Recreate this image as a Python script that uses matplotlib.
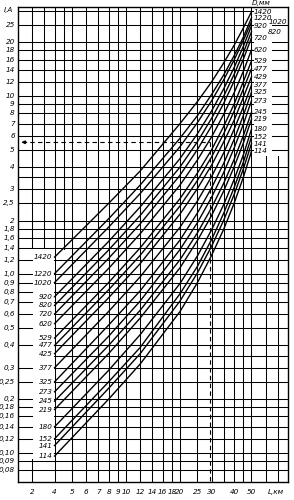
import matplotlib.pyplot as plt
from matplotlib.patches import Rectangle

# pipe diameter D, mm (labels at the start and the end of each curve)
left_labels = ['1420', '1220', '1020', '920', '820', '720', '620', '529', '477', '425',
               '377', '325', '273', '245', '219', '180', '152', '141', '114']
right_labels = ['1420', '1220', '1020', '920', '820', '720', '620', '529', '477', '429',
                '377', '325', '273', '245', '219', '180', '152', '141', '114']

# length L, km
length_km = [4, 8, 12, 20, 25, 30, 35, 40, 45, 50]

# current I, A at the lengths above
i_1420 = [1.25, 2.5, 3.8, 7.0, 9.3, 12.0, 15.3, 19.2, 24.0, 29.6]
i_1220 = [1.01, 2.05, 3.17, 5.8, 7.76, 10.2, 13.1, 16.8, 21.3, 27.4]
i_1020 = [0.90, 1.84, 2.84, 5.2, 7.09, 9.4, 12.3, 15.9, 20.4, 26.0]
i_920 = [0.75, 1.53, 2.39, 4.46, 6.14, 8.25, 10.95, 14.4, 18.9, 24.7]
i_820 = [0.67, 1.37, 2.14, 4.0, 5.54, 7.5, 9.96, 13.2, 17.4, 22.9]
i_720 = [0.60, 1.23, 1.92, 3.6, 5.01, 6.8, 9.08, 12.1, 16.0, 21.2]
i_620 = [0.53, 1.08, 1.69, 3.17, 4.38, 5.9, 7.88, 10.4, 13.7, 18.1]
i_529 = [0.44, 0.90, 1.41, 2.66, 3.70, 5.0, 6.75, 9.0, 12.0, 15.7]
i_477 = [0.40, 0.82, 1.28, 2.42, 3.36, 4.56, 6.14, 8.2, 10.9, 14.2]
i_425 = [0.36, 0.74, 1.15, 2.18, 3.03, 4.1, 5.52, 7.3, 9.8, 12.8]
i_377 = [0.30, 0.62, 0.97, 1.84, 2.58, 3.54, 4.79, 6.5, 8.67, 11.5]
i_325 = [0.25, 0.52, 0.81, 1.56, 2.21, 3.06, 4.19, 5.7, 7.75, 10.5]
i_273 = [0.22, 0.45, 0.71, 1.38, 1.95, 2.71, 3.72, 5.1, 6.92, 9.4]
i_245 = [0.195, 0.40, 0.63, 1.21, 1.71, 2.37, 3.24, 4.4, 5.97, 8.1]
i_219 = [0.175, 0.36, 0.57, 1.09, 1.55, 2.14, 2.93, 4.0, 5.43, 7.4]
i_180 = [0.14, 0.29, 0.46, 0.89, 1.27, 1.78, 2.46, 3.4, 4.66, 6.5]
i_152 = [0.12, 0.25, 0.39, 0.78, 1.11, 1.57, 2.20, 3.06, 4.24, 5.9]
i_141 = [0.11, 0.23, 0.36, 0.71, 1.02, 1.44, 2.01, 2.8, 3.89, 5.4]
i_114 = [0.096, 0.20, 0.315, 0.62, 0.90, 1.28, 1.79, 2.5, 3.49, 4.9]

curves = [i_1420, i_1220, i_1020, i_920, i_820, i_720, i_620, i_529, i_477, i_425,
          i_377, i_325, i_273, i_245, i_219, i_180, i_152, i_141, i_114]

# axis ticks
y_ticks = [25, 20, 18, 16, 14, 12, 10, 9, 8, 7, 6, 5, 4, 3, 2.5, 2, 1.8, 1.6, 1.4, 1.2,
           1.0, 0.9, 0.8, 0.7, 0.6, 0.5, 0.4, 0.3, 0.25, 0.2, 0.18, 0.16, 0.14, 0.12,
           0.10, 0.09, 0.08]
y_labels = ['25', '20', '18', '16', '14', '12', '10', '9', '8', '7', '6', '5', '4', '3', '2,5',
            '2', '1,8', '1,6', '1,4', '1,2', '1,0', '0,9', '0,8', '0,7', '0,6', '0,5', '0,4',
            '0,3', '0,25', '0,2', '0,18', '0,16', '0,14', '0,12', '0,10', '0,09', '0,08']
y_extra = [30, 3.5, 0.35]
x_ticks = [3, 4, 5, 6, 7, 8, 9, 10, 12, 14, 16, 18, 20, 25, 30, 40, 50]
x_labels = ['2', '4', '5', '6', '7', '8', '9', '10', '12', '14', '16', '18', '20', '25',
            '30', '40', '50']
x_extra = [35, 45, 60, 70]
x_upper = [3.5, 4.5]   # only drawn above the left label panel

# worked example
ex_length = 30
ex_current = 5.5

y_lo, y_hi = 0.0687, 31.5
fig = plt.figure(figsize=(2.94, 5.0), dpi=100)
ax = fig.add_axes([0.061, 0.036, 0.919, 0.95])
ax.set_xscale('log')
ax.set_yscale('log')
ax.set_xlim(2.5, 80)
ax.set_ylim(y_lo, y_hi)
ax.set_xticks([])
ax.set_yticks([])
ax.minorticks_off()
for s in ax.spines.values():
    s.set_linewidth(1.0)

grid_kw = dict(color='black', lw=0.75, zorder=1)
for y in y_ticks + y_extra:
    ax.axhline(y, **grid_kw)
for x in x_ticks + x_extra:
    ax.axvline(x, **grid_kw)
for x in x_upper:
    ax.plot([x, x], [1.38, y_hi], **grid_kw)

# white label panels, left and right
ax.add_patch(Rectangle((2.5, 0.093), 4 - 2.5 - 0.03, 1.38 - 0.093, facecolor='white',
                       edgecolor='none', zorder=1.5))
ax.add_patch(Rectangle((51.5, 4.6), 80 - 51.5 - 0.3, y_hi - 4.6, facecolor='white',
                       edgecolor='none', zorder=1.5))
for y in y_ticks:
    if 0.093 < y < 1.38:
        ax.plot([2.5, 3.0], [y, y], color='black', lw=0.75, zorder=2)
    if y > 4.6:
        ax.plot([65, 80], [y, y], color='black', lw=0.75, zorder=2)

for vals in curves:
    ax.plot(length_km, vals, color='black', lw=1.0, zorder=3)

lab_kw = dict(fontsize=5.2, style='italic', color='black', zorder=4)
for lab, vals in zip(left_labels, curves):
    ax.text(3.9, vals[0], lab, ha='right', va='center', **lab_kw)
for lab, vals in zip(right_labels, curves):
    xpos = 62 if lab in ('1020', '820') else 51.5
    ax.text(xpos, vals[-1], lab, ha='left', va='center', **lab_kw)
fig.text(252 / 294, 0.999, 'D,мм', ha='left', va='top', fontsize=5.2, style='italic')

for y, lab in zip(y_ticks, y_labels):
    ax.text(2.4, y, lab, ha='right', va='center', **lab_kw)
fig.text(0.012, 1 - 10 / 500, 'I,A', ha='left', va='center', fontsize=5.2, style='italic')
for x, lab in zip(x_ticks, x_labels):
    ax.text(x, 0.0605, lab, ha='center', va='center', **lab_kw)
ax.text(68, 0.0605, 'L,км', ha='center', va='center', **lab_kw)

# example: dashed reading line with arrow
ax.plot([2.65, ex_length * 0.975], [ex_current, ex_current], color='black', lw=0.8,
        ls=(0, (4, 3)), zorder=3)
ax.plot([ex_length * 0.975, ex_length * 0.975], [ex_current, y_lo], color='black',
        lw=0.8, ls=(0, (4, 3)), zorder=3)
ax.annotate('', xy=(2.52, ex_current), xytext=(2.9, ex_current),
            arrowprops=dict(arrowstyle='-|>', color='black', lw=0.8, mutation_scale=5),
            zorder=4)

fig.savefig('out.png', dpi=100, facecolor='white')
